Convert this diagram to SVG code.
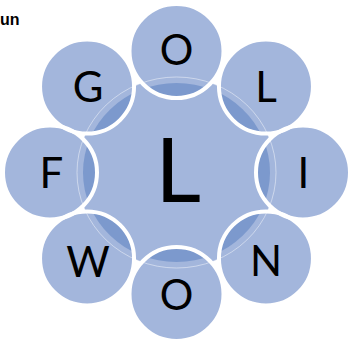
<svg xmlns="http://www.w3.org/2000/svg" width="348" height="339" viewBox="0 0 348 339">
<style>
.nodefill{fill:#a3b6dc}
.ring{fill:none;stroke:#ffffff;stroke-width:4}
.lbl{font-family:Lato,"Liberation Sans",sans-serif;font-size:42px;fill:#000000;text-anchor:middle}
.title{font-family:"Liberation Sans",Arial,sans-serif;font-weight:bold;font-size:16px;fill:#000000}
</style>
<defs>
<clipPath id="outer">
<circle cx="176.5" cy="51" r="47"/>
<circle cx="265.95" cy="86.6" r="47"/>
<circle cx="303" cy="172.5" r="47"/>
<circle cx="265.95" cy="258.4" r="47"/>
<circle cx="176.5" cy="294" r="47"/>
<circle cx="87.05" cy="258.4" r="47"/>
<circle cx="50" cy="172.5" r="47"/>
<circle cx="87.05" cy="86.6" r="47"/>
</clipPath>
</defs>
<text class="title" x="0" y="25">un</text>
<g id="center">
<ellipse cx="176.5" cy="172.5" rx="99.5" ry="95.5" fill="#a3b6dc"/>
</g>
<g id="nodes-fill">
<circle class="nodefill" cx="176.5" cy="51" r="47"/>
<circle class="nodefill" cx="265.95" cy="86.6" r="47"/>
<circle class="nodefill" cx="303" cy="172.5" r="47"/>
<circle class="nodefill" cx="265.95" cy="258.4" r="47"/>
<circle class="nodefill" cx="176.5" cy="294" r="47"/>
<circle class="nodefill" cx="87.05" cy="258.4" r="47"/>
<circle class="nodefill" cx="50" cy="172.5" r="47"/>
<circle class="nodefill" cx="87.05" cy="86.6" r="47"/>
</g>
<g id="overlap" clip-path="url(#outer)">
<ellipse cx="176.5" cy="172.5" rx="93.5" ry="89.5" fill="#7c99cd"/>
</g>
<ellipse cx="176.5" cy="172.5" rx="99.5" ry="95.5" fill="none" stroke="#ffffff" stroke-opacity="0.45" stroke-width="1"/>
<g id="connectors"></g>
<g id="node-O1"><circle class="ring" cx="176.5" cy="51" r="47"/><text class="lbl" x="176.5" y="65">O</text></g>
<g id="node-L"><circle class="ring" cx="265.95" cy="86.6" r="47"/><text class="lbl" x="266" y="102">L</text></g>
<g id="node-I"><circle class="ring" cx="303" cy="172.5" r="47"/><text class="lbl" x="303.5" y="188">I</text></g>
<g id="node-N"><circle class="ring" cx="265.95" cy="258.4" r="47"/><text class="lbl" x="266" y="276">N</text></g>
<g id="node-O2"><circle class="ring" cx="176.5" cy="294" r="47"/><text class="lbl" x="176.5" y="310">O</text></g>
<g id="node-W"><circle class="ring" cx="87.05" cy="258.4" r="47"/><text class="lbl" x="88" y="277">W</text></g>
<g id="node-F"><circle class="ring" cx="50" cy="172.5" r="47"/><text class="lbl" x="51.5" y="188">F</text></g>
<g id="node-G"><circle class="ring" cx="87.05" cy="86.6" r="47"/><text class="lbl" x="88" y="102">G</text></g>
<g id="node-center"><text class="lbl" x="178" y="202" style="font-size:89px">L</text></g>
</svg>
